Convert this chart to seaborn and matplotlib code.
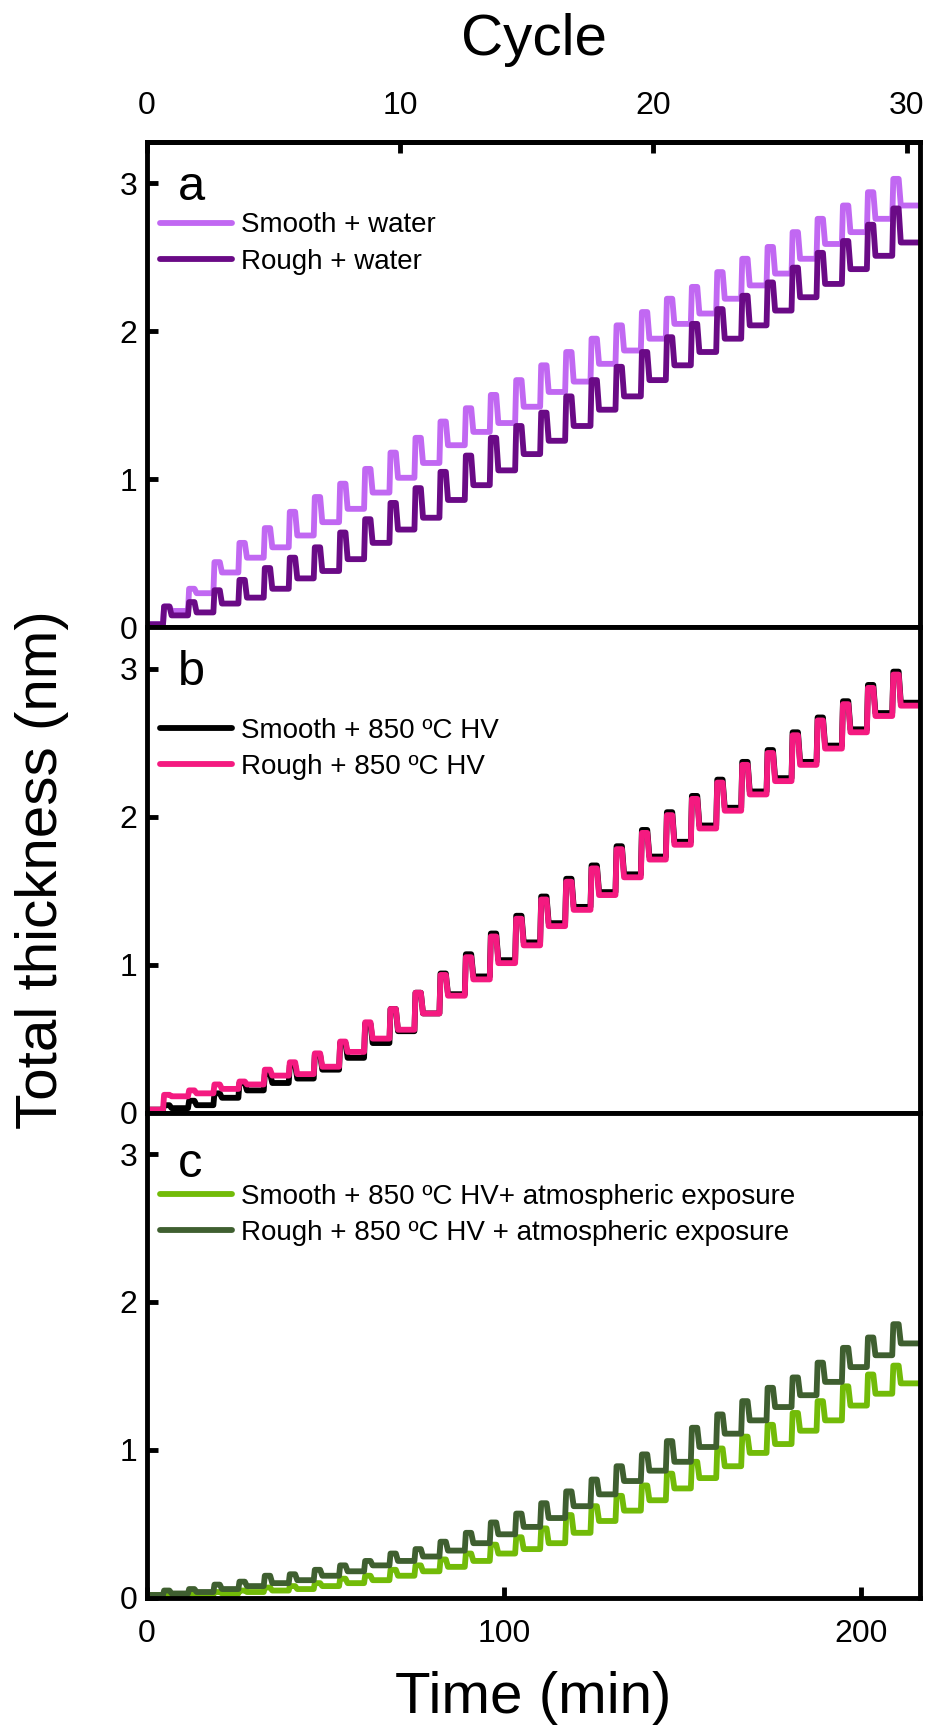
#!/usr/bin/env python3
"""Total thickness vs time, three stacked panels (a, b, c) with a cycle axis on top"""

import pandas as pd

import matplotlib
matplotlib.use('agg')
import matplotlib.pyplot as plt

import seaborn as sns

# start of each dose cycle (min)
t_rise = [4.5, 11.5, 18.6, 25.6, 32.7, 39.7, 46.7, 53.8, 60.8, 67.9,
          74.9, 81.9, 89.0, 96.0, 103.1, 110.1, 117.1, 124.2, 131.2, 138.3,
          145.3, 152.3, 159.4, 166.4, 173.5, 180.5, 187.5, 194.6, 201.6, 208.7]
t_end = 216.5
min_per_cycle = 7.09
baseline = 0.02

# panel a
smooth_water_level = [0.11, 0.23, 0.37, 0.47, 0.54, 0.62, 0.71, 0.80, 0.91, 1.01,
                      1.11, 1.23, 1.32, 1.38, 1.49, 1.59, 1.66, 1.78, 1.87, 1.95,
                      2.05, 2.12, 2.22, 2.31, 2.39, 2.49, 2.59, 2.67, 2.76, 2.85]
smooth_water_peak = [0.14, 0.26, 0.44, 0.57, 0.67, 0.78, 0.88, 0.97, 1.07, 1.18,
                     1.28, 1.39, 1.48, 1.57, 1.67, 1.77, 1.86, 1.95, 2.04, 2.13,
                     2.22, 2.30, 2.40, 2.49, 2.57, 2.67, 2.76, 2.85, 2.94, 3.03]
rough_water_level = [0.08, 0.10, 0.16, 0.20, 0.26, 0.33, 0.38, 0.46, 0.57, 0.66,
                     0.74, 0.86, 0.96, 1.06, 1.17, 1.26, 1.36, 1.47, 1.56, 1.67,
                     1.77, 1.86, 1.95, 2.04, 2.14, 2.23, 2.32, 2.42, 2.51, 2.60]
rough_water_peak = [0.14, 0.17, 0.25, 0.32, 0.40, 0.47, 0.54, 0.64, 0.73, 0.84,
                    0.94, 1.05, 1.16, 1.28, 1.36, 1.45, 1.56, 1.67, 1.76, 1.86,
                    1.96, 2.05, 2.15, 2.24, 2.33, 2.43, 2.53, 2.61, 2.72, 2.83]

# panel b
smooth_hv_level = [0.03, 0.05, 0.10, 0.15, 0.20, 0.23, 0.29, 0.37, 0.47, 0.55,
                   0.67, 0.80, 0.92, 1.03, 1.15, 1.28, 1.39, 1.49, 1.61, 1.73,
                   1.83, 1.94, 2.06, 2.17, 2.26, 2.37, 2.48, 2.59, 2.70, 2.77]
smooth_hv_peak = [0.05, 0.08, 0.13, 0.20, 0.26, 0.32, 0.39, 0.47, 0.60, 0.70,
                  0.81, 0.94, 1.07, 1.21, 1.33, 1.46, 1.58, 1.67, 1.80, 1.91,
                  2.03, 2.14, 2.25, 2.37, 2.45, 2.57, 2.67, 2.78, 2.89, 2.98]
rough_hv_level = [0.11, 0.13, 0.16, 0.19, 0.25, 0.26, 0.31, 0.41, 0.50, 0.56,
                  0.67, 0.79, 0.90, 1.01, 1.13, 1.26, 1.37, 1.47, 1.59, 1.71,
                  1.81, 1.92, 2.04, 2.15, 2.24, 2.35, 2.46, 2.57, 2.68, 2.75]
rough_hv_peak = [0.12, 0.15, 0.19, 0.21, 0.29, 0.34, 0.40, 0.48, 0.61, 0.70,
                 0.81, 0.93, 1.05, 1.19, 1.31, 1.44, 1.56, 1.65, 1.78, 1.89,
                 2.01, 2.12, 2.23, 2.35, 2.43, 2.55, 2.65, 2.76, 2.87, 2.96]

# panel c
smooth_atm_level = [0.01, 0.02, 0.03, 0.04, 0.05, 0.06, 0.08, 0.10, 0.12, 0.15,
                    0.18, 0.21, 0.25, 0.30, 0.33, 0.37, 0.44, 0.52, 0.59, 0.66,
                    0.74, 0.81, 0.89, 0.98, 1.04, 1.13, 1.20, 1.30, 1.38, 1.45]
smooth_atm_peak = [0.02, 0.03, 0.04, 0.05, 0.07, 0.08, 0.10, 0.13, 0.15, 0.19,
                   0.22, 0.26, 0.30, 0.36, 0.41, 0.47, 0.56, 0.62, 0.69, 0.76,
                   0.84, 0.92, 1.01, 1.09, 1.17, 1.25, 1.33, 1.43, 1.51, 1.57]
rough_atm_level = [0.03, 0.04, 0.06, 0.08, 0.10, 0.12, 0.15, 0.18, 0.22, 0.25,
                   0.28, 0.32, 0.37, 0.43, 0.48, 0.54, 0.62, 0.70, 0.79, 0.86,
                   0.92, 1.02, 1.11, 1.20, 1.29, 1.37, 1.46, 1.56, 1.64, 1.72]
rough_atm_peak = [0.05, 0.06, 0.09, 0.11, 0.15, 0.16, 0.19, 0.22, 0.25, 0.30,
                  0.33, 0.38, 0.44, 0.51, 0.57, 0.64, 0.72, 0.80, 0.89, 0.97,
                  1.06, 1.15, 1.24, 1.33, 1.42, 1.49, 1.59, 1.69, 1.76, 1.85]

panels = [
    ('a', [('Smooth + water', smooth_water_level, smooth_water_peak, '#c168f2'),
           ('Rough + water', rough_water_level, rough_water_peak, '#6a0a86')]),
    ('b', [('Smooth + 850 ºC HV', smooth_hv_level, smooth_hv_peak, '#000000'),
           ('Rough + 850 ºC HV', rough_hv_level, rough_hv_peak, '#f41a80')]),
    ('c', [('Smooth + 850 ºC HV+ atmospheric exposure', smooth_atm_level, smooth_atm_peak, '#72bb08'),
           ('Rough + 850 ºC HV + atmospheric exposure', rough_atm_level, rough_atm_peak, '#3f5f30')]),
]


def _trace(levels, peaks):
    """Step trace: jump to the dose peak, hold, relax onto the cycle plateau"""
    tvals, yvals = [0.0], [baseline]
    for k, trise in enumerate(t_rise):
        prev = baseline if k == 0 else levels[k - 1]
        tvals += [trise, trise + 0.3, trise + 1.8, trise + 2.4]
        yvals += [prev, peaks[k], peaks[k], levels[k]]
    tvals.append(t_end)
    yvals.append(levels[-1])
    return pd.DataFrame({'time': tvals, 'thickness': yvals})


def main():
    sns.set_style('ticks', {'axes.edgecolor': 'black', 'text.color': 'black',
                            'xtick.color': 'black', 'ytick.color': 'black',
                            'axes.labelcolor': 'black'})
    plt.rcParams['font.family'] = ['Liberation Sans', 'DejaVu Sans']
    fig = plt.figure(figsize=(9.36, 17.26), dpi=100)

    bottoms = [0.6366, 0.3554, 0.0742]
    leg_y = [0.855, 0.814, 0.853]
    let_y = [0.907, 0.907, 0.893]
    axes = []
    for i, (letter, series) in enumerate(panels):
        ax = fig.add_axes([0.157, bottoms[i], 0.826, 0.2812])
        for label, lev, pk, color in series:
            sns.lineplot(data=_trace(lev, pk), x='time', y='thickness', ax=ax,
                         color=color, lw=4.2, label=label, estimator=None, sort=False)
        ax.set_xlim(0, t_end)
        ax.set_ylim(0, 3.28)
        ax.set_yticks([0, 1, 2, 3])
        ax.set_xticks([0, 100, 200])
        ax.set_xlabel('')
        ax.set_ylabel('')
        for sp in ax.spines.values():
            sp.set_visible(True)
            sp.set_linewidth(3.5)
            sp.set_color('black')
        ax.tick_params(axis='y', direction='in', length=8, width=3.5, labelsize=23, pad=7)
        ax.tick_params(axis='x', direction='in', length=8, width=3.5, labelsize=23, pad=15)
        if i < 2:
            ax.tick_params(axis='x', bottom=False, labelbottom=False)
        ax.text(0.04, let_y[i], letter, transform=ax.transAxes, fontsize=35,
                ha='left', va='center')
        ax.legend(loc='upper left', bbox_to_anchor=(0.017, leg_y[i]), frameon=False,
                  fontsize=20, handlelength=2.6, handletextpad=0.3, labelspacing=0.37,
                  borderpad=0, borderaxespad=0)
        axes.append(ax)

    top = axes[0].secondary_xaxis('top', functions=(lambda t: t / min_per_cycle,
                                                    lambda c: c * min_per_cycle))
    top.set_xticks([0, 10, 20, 30])
    top.tick_params(direction='in', length=8, width=3.5, labelsize=23, pad=15)
    top.spines['top'].set_linewidth(3.5)
    top.set_xlabel('Cycle', fontsize=42, labelpad=26)

    axes[2].set_xlabel('Time (min)', fontsize=42, labelpad=16)
    fig.text(0.045, 0.496, 'Total thickness (nm)', rotation=90, fontsize=42,
             ha='center', va='center')

    fig.savefig('out.png', dpi=100)


if __name__ == '__main__':
    main()
